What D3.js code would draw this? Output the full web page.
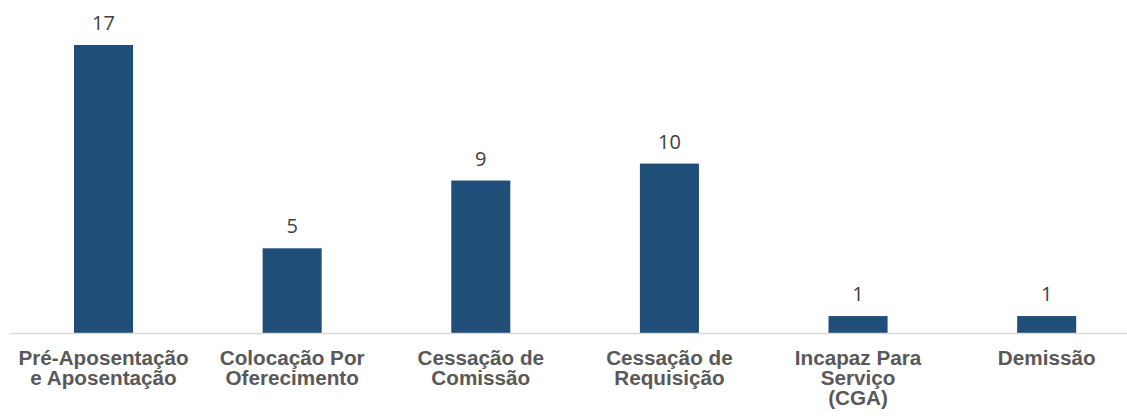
<!DOCTYPE html>
<html>
<head>
<meta charset="utf-8">
<script src="https://cdn.jsdelivr.net/npm/d3@7"></script>
<style>
  html, body { margin: 0; padding: 0; background: #fff; }
  svg { display: block; }
</style>
</head>
<body>
<svg id="chart" width="1127" height="416"></svg>
<script>
const categories = [
  "Pré-Aposentação\ne Aposentação",
  "Colocação Por\nOferecimento",
  "Cessação de\nComissão",
  "Cessação de\nRequisição",
  "Incapaz Para\nServiço\n(CGA)",
  "Demissão"
];
const values = [17, 5, 9, 10, 1, 1];

const svg = d3.select("#chart");
const x = d3.scaleBand()
  .domain(categories)
  .range([9.2, 1141])
  .paddingInner(0.687)
  .paddingOuter(0.3435);
const y = d3.scaleLinear().domain([0, 17]).range([333, 45]);

// bars
svg.append("g").selectAll("rect")
  .data(values)
  .join("rect")
  .attr("x", (d, i) => x(categories[i]))
  .attr("width", x.bandwidth())
  .attr("y", d => y(d))
  .attr("height", d => y(0) - y(d))
  .attr("fill", "#1F4E79");

// baseline axis
const axis = d3.axisBottom(x).tickSize(0).tickFormat("");
const gAxis = svg.append("g").attr("transform", `translate(0,${y(0)})`).call(axis);
gAxis.select(".domain").attr("stroke", "#d9d9d9").attr("stroke-width", 1.5);

// category labels
const labels = svg.append("g").selectAll("text")
  .data(categories)
  .join("text")
  .attr("x", d => x(d) + x.bandwidth() / 2)
  .attr("y", y(0) + 32)
  .attr("text-anchor", "middle")
  .style("font-family", "'Liberation Sans', Arial, sans-serif")
  .style("font-weight", "bold")
  .style("font-size", "20.7px")
  .attr("fill", "#595959");
labels.each(function(d) {
  const t = d3.select(this);
  d.split("\n").forEach((line, k) => {
    t.append("tspan")
      .attr("x", x(d) + x.bandwidth() / 2)
      .attr("dy", k === 0 ? 0 : 20)
      .text(line);
  });
});

// value labels
svg.append("g").selectAll("text")
  .data(values)
  .join("text")
  .attr("x", (d, i) => x(categories[i]) + x.bandwidth() / 2)
  .attr("y", d => y(d) - 15)
  .attr("text-anchor", "middle")
  .style("font-family", "'Open Sans', sans-serif")
  .style("font-size", "20px")
  .attr("fill", "#404040")
  .text(d => d);
</script>
</body>
</html>
